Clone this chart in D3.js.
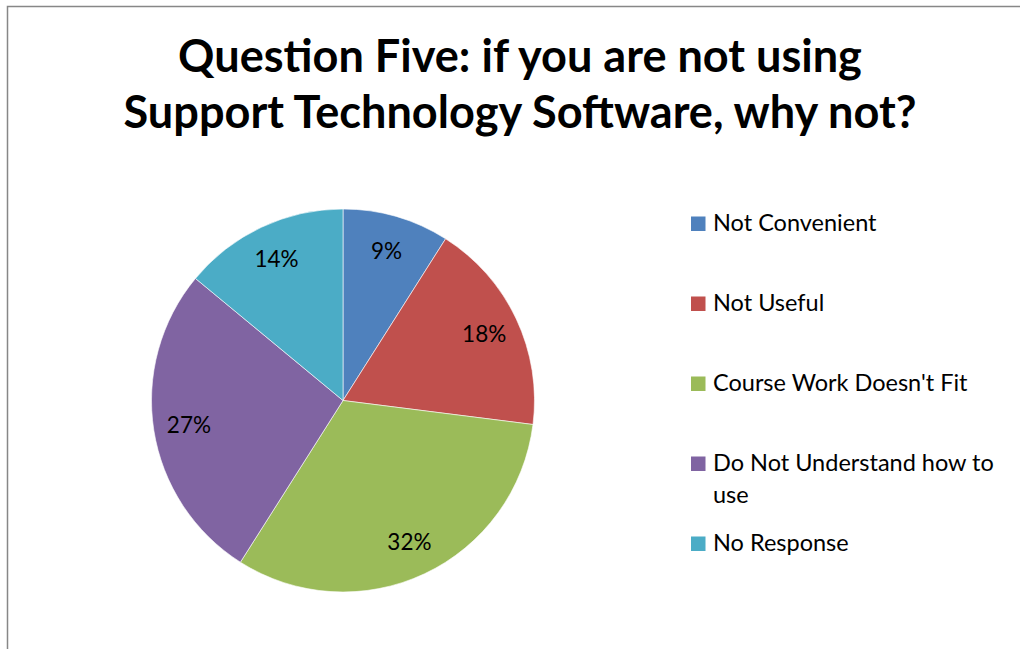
<!DOCTYPE html>
<html>
<head>
<meta charset="utf-8">
<script src="https://cdn.jsdelivr.net/npm/d3@7/dist/d3.min.js"></script>
<style>
  html, body { margin: 0; padding: 0; background: #fff; }
  svg { display: block; }
  text { font-family: Lato, "Open Sans", sans-serif; fill: #000; }
</style>
</head>
<body>
<svg id="chart" width="1020" height="649"></svg>
<script>
// Survey answers, share of respondents (%)
const categories = ["Not Convenient", "Not Useful", "Course Work Doesn't Fit", "Do Not Understand how to use", "No Response"];
const percentages = [9, 18, 32, 27, 14];
const colors = ["#4F81BD", "#C0504D", "#9BBB59", "#8064A2", "#4BACC6"];
const titleLines = ["Question Five: if you are not using", "Support Technology Software, why not?"];
// Legend labels as they wrap in the legend box
const legendLines = [["Not Convenient"], ["Not Useful"], ["Course Work Doesn't Fit"], ["Do Not Understand how to", "use"], ["No Response"]];

const svg = d3.select("#chart");

// Chart area frame (continues past the right and bottom edges)
svg.append("rect")
  .attr("x", 7.5).attr("y", 6.5)
  .attr("width", 1200).attr("height", 1000)
  .attr("fill", "#fff")
  .attr("stroke", "#878787")
  .attr("stroke-width", 1.5);

// Title
const titleCx = 520;
const tl = svg.append("g").selectAll("text").data(titleLines).join("text")
  .attr("x", titleCx)
  .attr("y", (d, i) => 72 + i * 56)
  .attr("text-anchor", "middle")
  .attr("font-weight", 700)
  .attr("font-size", 40)
  .text(d => d);
// size the title so the second line spans its measured width
const w2 = tl.nodes()[1].getComputedTextLength();
tl.attr("font-size", 40 * 793 / w2);

// Pie
const cx = 343, cy = 400.5, r = 191.5;
const color = d3.scaleOrdinal().domain(categories).range(colors);
const pie = d3.pie().sort(null).value(d => d.value);
const arcs = pie(categories.map((c, i) => ({ name: c, value: percentages[i] })));
const arc = d3.arc().innerRadius(0).outerRadius(r);
const labelArc = d3.arc().innerRadius(156).outerRadius(156);

const g = svg.append("g").attr("transform", `translate(${cx},${cy})`);
g.selectAll("path").data(arcs).join("path")
  .attr("d", arc)
  .attr("fill", d => color(d.data.name))
  .attr("stroke", "#fff")
  .attr("stroke-width", 0.6);

g.selectAll("text.pct").data(arcs).join("text")
  .attr("class", "pct")
  .attr("transform", d => `translate(${labelArc.centroid(d)})`)
  .attr("text-anchor", "middle")
  .attr("dy", "0.36em")
  .attr("font-size", 22.5)
  .text(d => d3.format(".0f")(d.data.value) + "%");

// Legend
const legend = svg.append("g");
const lx = 691, ly0 = 231, step = 80, wrapStep = 31.5, sq = 14.5;
categories.forEach((c, i) => {
  const base = ly0 + i * step;
  legend.append("rect")
    .attr("x", lx).attr("y", base - sq)
    .attr("width", sq).attr("height", sq)
    .attr("fill", color(c));
  legendLines[i].forEach((line, j) => {
    legend.append("text")
      .attr("x", 713)
      .attr("y", base + j * wrapStep)
      .attr("font-size", 23.5)
      .text(line);
  });
});
</script>
</body>
</html>
